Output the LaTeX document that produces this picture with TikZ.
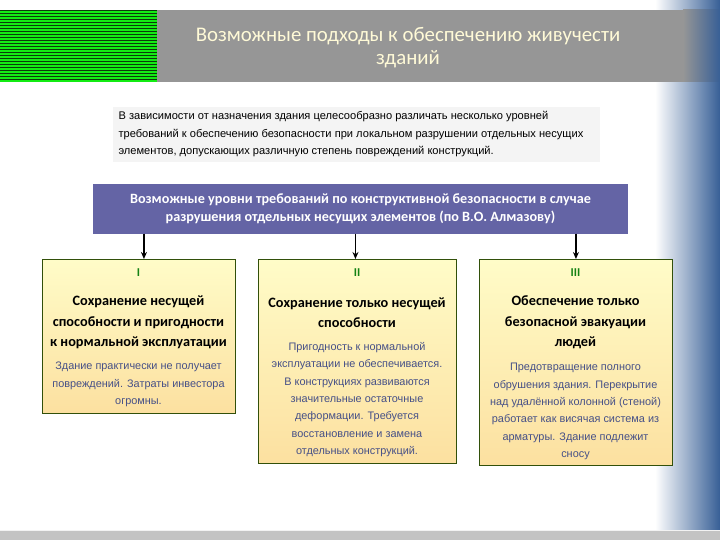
\documentclass[tikz,border=0pt]{standalone}
\usepackage{fontspec}
\setmainfont{Carlito}
\newfontfamily\bodyfont{Liberation Sans}
\usetikzlibrary{arrows.meta,positioning,calc}
\definecolor{hdrGray}{RGB}{150,150,150}
\definecolor{hdrText}{RGB}{255,250,215}
\definecolor{stripeGreen}{RGB}{20,235,20}
\definecolor{stripeDark}{RGB}{10,60,10}
\definecolor{introBack}{RGB}{244,244,244}
\definecolor{boxPurple}{RGB}{100,100,165}
\definecolor{boxTop}{RGB}{255,252,200}
\definecolor{boxBot}{RGB}{252,224,160}
\definecolor{boxEdge}{RGB}{50,80,10}
\definecolor{numGreen}{RGB}{20,130,20}
\definecolor{bodyBlue}{RGB}{70,80,135}
\definecolor{edgeBlue}{RGB}{55,95,150}
\definecolor{footGray}{RGB}{195,195,195}

\begin{document}
\begin{tikzpicture}[x=1pt,y=-1pt,
  lvlbox/.style={draw=boxEdge,line width=0.9pt,top color=boxTop,bottom color=boxBot,
    anchor=north west,inner sep=0pt},
  numtxt/.style={font=\fontsize{12}{14}\selectfont\bfseries,text=numGreen},
  ttltxt/.style={align=center,font=\fontsize{14.3}{20.5}\selectfont\bfseries},
  bodytxt/.style={align=center,text=bodyBlue,font=\bodyfont\fontsize{10.9}{17.4}\selectfont},
  arr/.style={-{Stealth[length=7pt,width=6pt]},line width=1.1pt}]
  \useasboundingbox (0,0) rectangle (720,540);
  % side band and footer
  \shade[left color=white,right color=edgeBlue] (655,0) rectangle (720,531);
  \fill[footGray] (0,531) rectangle (720,540);
  \fill[white!90!gray] (0,529.5) rectangle (720,531);
  % header
  \fill[stripeGreen] (0,10) rectangle (157,82);
  \foreach \k in {0,...,23}
    \fill[stripeDark] (0,10+3*\k) rectangle (157,11.2+3*\k);
  \fill[hdrGray] (157,10) rectangle (683,82);
  \shade[left color=hdrGray,right color=edgeBlue] (683,10) rectangle (720,82);
  \node[align=center,text=hdrText,font=\fontsize{20.8}{23}\selectfont] (title) at (408,47.5)
    {Возможные подходы к обеспечению живучести\\зданий};
  % intro
  \fill[introBack] (113,107) rectangle (600,162);
  \node[anchor=west,align=left,font=\bodyfont\fontsize{11.1}{17.5}\selectfont] (intro) at (115,134.5)
    {В зависимости от назначения здания целесообразно различать несколько уровней\\
     требований к обеспечению безопасности при локальном разрушении отдельных несущих\\
     элементов, допускающих различную степень повреждений конструкций.};
  % requirement levels
  \node[fill=boxPurple,minimum width=535pt,minimum height=49pt,inner sep=0pt,
    align=center,text=white,font=\fontsize{14.2}{18}\selectfont\bfseries] (levels) at (360.5,209)
    {Возможные уровни требований по конструктивной безопасности в случае\\
     разрушения отдельных несущих элементов (по В.О. Алмазову)};

  \node[lvlbox,minimum width=193pt,minimum height=154pt] (lvlI) at (42,259) {};
  \node[lvlbox,minimum width=198pt,minimum height=204pt] (lvlII) at (258,259) {};
  \node[lvlbox,minimum width=193pt,minimum height=206pt] (lvlIII) at (479,259) {};

  \draw[arr] ($(levels.south -| lvlI.north)+(5,0)$) -- ($(lvlI.north)+(5,0)$);
  \draw[arr] ($(levels.south -| lvlII.north)+(-2,0)$) -- ($(lvlII.north)+(-2,0)$);
  \draw[arr] (levels.south -| lvlIII.north) -- (lvlIII.north);

  % level I
  \node[numtxt] (numI) at (138.5,273) {I};
  \node[ttltxt] (ttlI) at (138.5,322.5)
    {Сохранение несущей\\способности и пригодности\\к нормальной эксплуатации};
  \node[bodytxt] (txtI) at (138.5,384.5)
    {Здание практически не получает\\повреждений. Затраты инвестора\\огромны.};
  % level II
  \node[numtxt] (numII) at (357,273) {II};
  \node[ttltxt] (ttlII) at (357,312.5)
    {Сохранение только несущей\\способности};
  \node[bodytxt] (txtII) at (357,399.5)
    {Пригодность к нормальной\\эксплуатации не обеспечивается.\\В конструкциях развиваются\\значительные остаточные\\деформации. Требуется\\восстановление и замена\\отдельных конструкций.};
  % level III
  \node[numtxt] (numIII) at (575.5,273) {III};
  \node[ttltxt] (ttlIII) at (575.5,322.5)
    {Обеспечение только\\безопасной эвакуации\\людей};
  \node[bodytxt] (txtIII) at (575.5,411.5)
    {Предотвращение полного\\обрушения здания. Перекрытие\\над удалённой колонной (стеной)\\работает как висячая система из\\арматуры. Здание подлежит\\сносу};
\end{tikzpicture}
\end{document}
